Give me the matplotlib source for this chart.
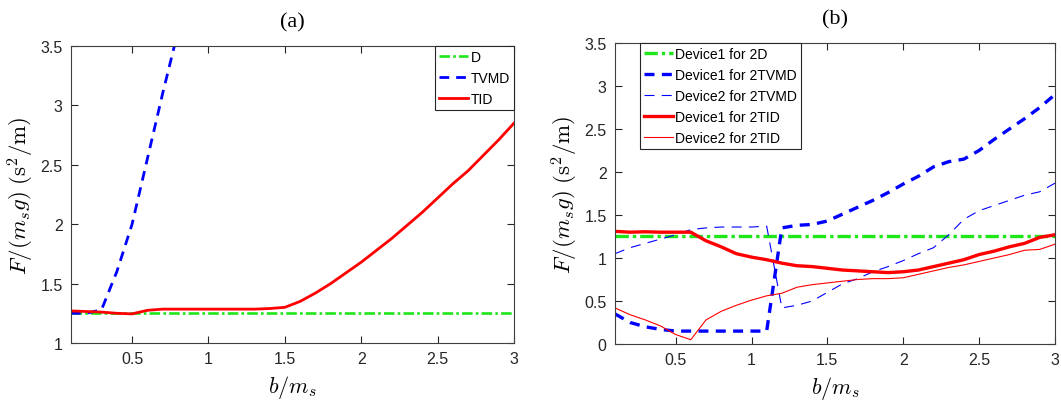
import matplotlib
matplotlib.use("Agg")
import matplotlib.pyplot as plt

plt.rcParams['font.family'] = ['Liberation Sans', 'DejaVu Sans']
plt.rcParams['mathtext.fontset'] = 'cm'

# b/m_s grid shared by every curve
b = [0.1, 0.2, 0.3, 0.4, 0.5, 0.6, 0.7, 0.8, 0.9, 1.0,
     1.1, 1.2, 1.3, 1.4, 1.5, 1.6, 1.7, 1.8, 1.9, 2.0,
     2.1, 2.2, 2.3, 2.4, 2.5, 2.6, 2.7, 2.8, 2.9, 3.0]

# (a) single device
d_single = 1.25
tvmd_b = [0.1, 0.2, 0.3, 0.4, 0.5, 0.6, 0.7, 0.8]
tvmd_single = [1.25, 1.25, 1.28, 1.60, 2.00, 2.55, 3.10, 3.62]
tid_single = [1.27, 1.265, 1.26, 1.25, 1.245, 1.275, 1.285, 1.285, 1.285, 1.285,
              1.285, 1.285, 1.285, 1.29, 1.30, 1.35, 1.42, 1.50, 1.59, 1.68,
              1.78, 1.88, 1.99, 2.10, 2.22, 2.34, 2.45, 2.58, 2.71, 2.85]

# (b) two devices
d_double = 1.25
tvmd_dev1 = [0.35, 0.25, 0.20, 0.17, 0.15, 0.15, 0.15, 0.15, 0.15, 0.15,
             0.15, 1.35, 1.38, 1.39, 1.43, 1.51, 1.59, 1.67, 1.76, 1.86,
             1.95, 2.06, 2.12, 2.15, 2.25, 2.38, 2.50, 2.62, 2.75, 2.90]
tvmd_dev2 = [1.05, 1.12, 1.17, 1.22, 1.27, 1.33, 1.35, 1.36, 1.36, 1.36,
             1.37, 0.42, 0.45, 0.50, 0.60, 0.70, 0.76, 0.84, 0.90, 0.97,
             1.05, 1.12, 1.27, 1.45, 1.55, 1.61, 1.67, 1.73, 1.77, 1.87]
tid_dev1 = [1.31, 1.30, 1.305, 1.30, 1.30, 1.30, 1.20, 1.13, 1.05, 1.01,
            0.98, 0.94, 0.91, 0.90, 0.88, 0.86, 0.85, 0.84, 0.83, 0.84,
            0.86, 0.90, 0.94, 0.98, 1.04, 1.08, 1.13, 1.17, 1.24, 1.27]
tid_dev2 = [0.42, 0.34, 0.28, 0.21, 0.11, 0.05, 0.28, 0.38, 0.45, 0.51,
            0.56, 0.59, 0.66, 0.69, 0.71, 0.73, 0.75, 0.76, 0.76, 0.77,
            0.81, 0.85, 0.89, 0.92, 0.96, 1.00, 1.04, 1.09, 1.10, 1.16]

xticks = [0.5, 1, 1.5, 2, 2.5, 3]
xticklabels = ['0.5', '1', '1.5', '2', '2.5', '3']
yticks_a = [1, 1.5, 2, 2.5, 3, 3.5]
yticklabels_a = ['1', '1.5', '2', '2.5', '3', '3.5']
yticks_b = [0, 0.5, 1, 1.5, 2, 2.5, 3, 3.5]
yticklabels_b = ['0', '0.5', '1', '1.5', '2', '2.5', '3', '3.5']

GREEN = '#1ee619'
BLUE = '#0000ff'
RED = '#ff0000'
DASHDOT = (0, (4, 1.2, 1, 1.2))

fig = plt.figure(figsize=(10.61, 4.02), dpi=100)
ax1 = fig.add_axes([0.0669, 0.1443, 0.4175, 0.7388])
ax2 = fig.add_axes([0.5796, 0.1418, 0.4147, 0.7488])


def style(ax, title, yt, ytl, ylim):
    ax.set_xlim(0.1, 3)
    ax.set_ylim(*ylim)
    ax.set_xticks(xticks)
    ax.set_xticklabels(xticklabels)
    ax.set_yticks(yt)
    ax.set_yticklabels(ytl)
    ax.tick_params(direction='in', top=True, right=True, length=5, width=0.8,
                   color='#262626', labelcolor='#262626', labelsize=11.5, pad=6)
    for s in ax.spines.values():
        s.set_color('#404040')
        s.set_linewidth(0.8)
    ax.set_title(title, family='Liberation Serif', fontsize=16, pad=14)
    ax.set_xlabel(r'$b/m_s$', fontsize=16, labelpad=5)
    ax.set_ylabel(r'$F/(m_sg)\ (\mathrm{s}^2/\mathrm{m})$', fontsize=16.5, labelpad=3)


def legend(ax, loc, anchor):
    leg = ax.legend(loc=loc, bbox_to_anchor=anchor, borderaxespad=0,
                    fontsize=10, handlelength=2.1, handletextpad=0.15,
                    labelspacing=0.5, fancybox=False, edgecolor='#262626',
                    framealpha=1, borderpad=0.3)
    leg.get_frame().set_linewidth(0.8)


# (a)
ax1.plot([b[0], b[-1]], [d_single, d_single], color=GREEN, lw=1.9, linestyle=DASHDOT, label='D')
ax1.plot(tvmd_b, tvmd_single, color=BLUE, lw=2.0, linestyle=(0, (3.5, 2.5)), label='TVMD')
ax1.plot(b, tid_single, color=RED, lw=2.0, label='TID')
style(ax1, '(a)', yticks_a, yticklabels_a, (1, 3.5))
legend(ax1, 'upper right', (1, 1))

# (b)
ax2.plot([b[0], b[-1]], [d_double, d_double], color=GREEN, lw=2.4, linestyle=DASHDOT,
         label='Device1 for 2D')
ax2.plot(b, tvmd_dev1, color=BLUE, lw=2.4, linestyle=(0, (3, 2.2)), label='Device1 for 2TVMD')
ax2.plot(b, tvmd_dev2, color=BLUE, lw=0.8, linestyle=(0, (9, 6.5)), label='Device2 for 2TVMD')
ax2.plot(b, tid_dev1, color=RED, lw=2.4, label='Device1 for 2TID')
ax2.plot(b, tid_dev2, color=RED, lw=0.8, label='Device2 for 2TID')
style(ax2, '(b)', yticks_b, yticklabels_b, (0, 3.5))
legend(ax2, 'upper left', (0.057, 1))

fig.savefig('out.png', dpi=100)
